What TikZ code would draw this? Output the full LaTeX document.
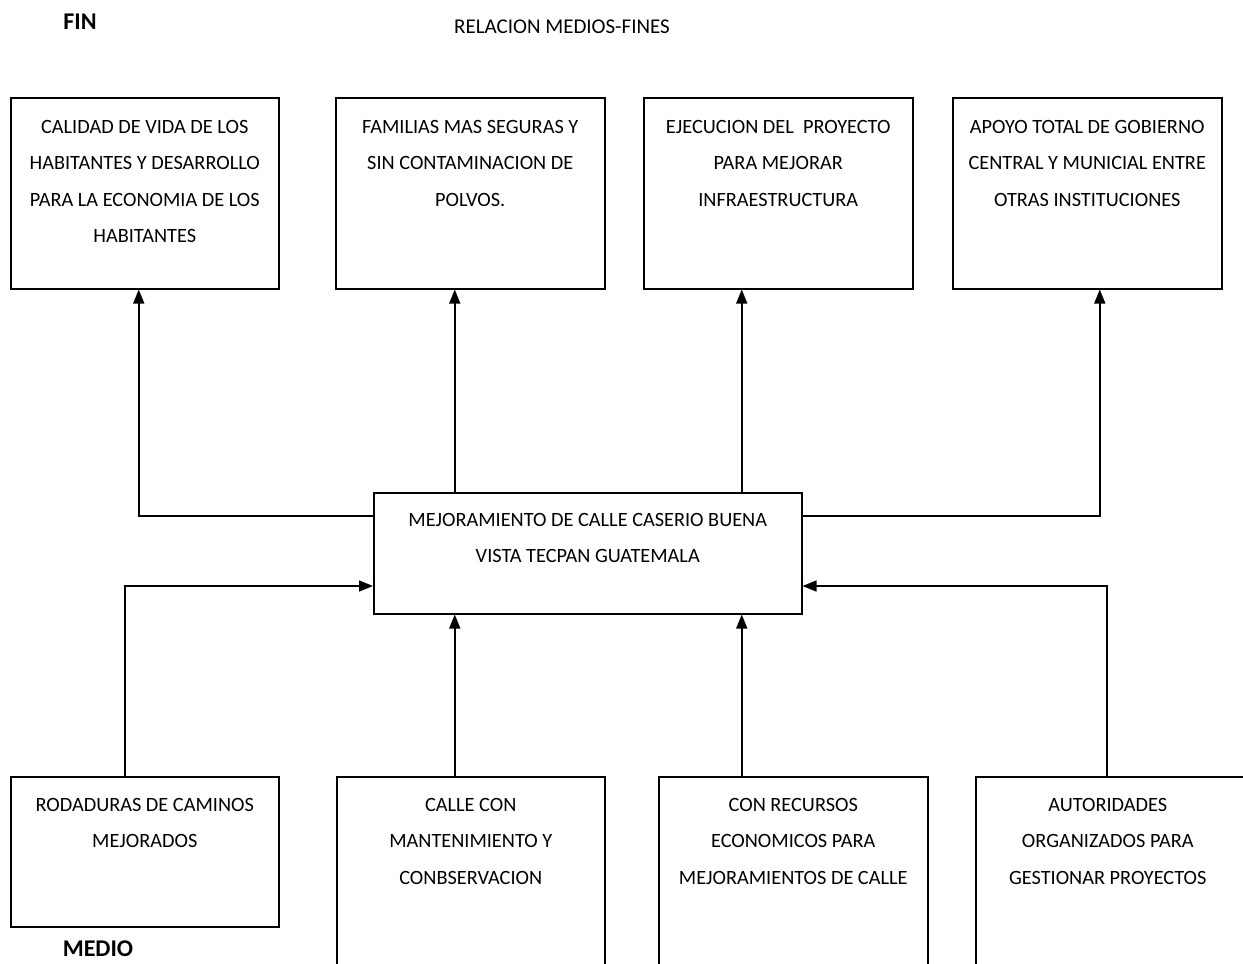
\documentclass[tikz,border=0pt]{standalone}
\usepackage{fontspec}
\setmainfont{Carlito}
\usetikzlibrary{arrows.meta,positioning}
\begin{document}
\begin{tikzpicture}[x=1pt,y=-1pt,
  bx/.style={draw, line width=1.5pt, anchor=north west, inner sep=0pt},
  txt/.style={align=center, inner sep=0pt, font=\fontsize{20.3}{36.5}\selectfont},
  ttl/.style={inner sep=0pt, font=\fontsize{24}{28}\selectfont\bfseries},
  arr/.style={line width=1.5pt, -{Triangle[length=14pt,width=11pt]}}]
\clip (0,0) rectangle (1243,964);
\fill[white] (0,0) rectangle (1243,964);

% titles
\node[ttl] (fin) at (80,22) {FIN};
\node[ttl] (medio) at (98,949) {MEDIO};
\node[inner sep=0pt, font=\fontsize{21}{24}\selectfont] (rel) at (562,27) {RELACION MEDIOS-FINES};

% top (ends) boxes
\node[bx, minimum width=268pt, minimum height=191pt] (f1) at (10,97) {};
\node[bx, minimum width=269pt, minimum height=191pt] (f2) at (335,97) {};
\node[bx, minimum width=269pt, minimum height=191pt] (f3) at (643,97) {};
\node[bx, minimum width=269pt, minimum height=191pt] (f4) at (952,97) {};

\node[txt, below=23pt of f1.north] (t1) {CALIDAD DE VIDA DE LOS\\HABITANTES Y DESARROLLO\\PARA LA ECONOMIA DE LOS\\HABITANTES};
\node[txt, below=23pt of f2.north] (t2) {FAMILIAS MAS SEGURAS Y\\SIN CONTAMINACION DE\\POLVOS.};
\node[txt, below=23pt of f3.north] (t3) {EJECUCION DEL\ \ PROYECTO\\PARA MEJORAR\\INFRAESTRUCTURA};
\node[txt, below=23pt of f4.north] (t4) {APOYO TOTAL DE GOBIERNO\\CENTRAL Y MUNICIAL ENTRE\\OTRAS INSTITUCIONES};

% central box
\node[bx, minimum width=428pt, minimum height=121pt] (c) at (373,492) {};
\node[txt, below=21pt of c.north] (tc) {MEJORAMIENTO DE CALLE CASERIO BUENA\\VISTA TECPAN GUATEMALA};

% bottom (means) boxes
\node[bx, minimum width=268pt, minimum height=150pt] (m1) at (10,776) {};
\node[bx, minimum width=268pt, minimum height=210pt] (m2) at (336,776) {};
\node[bx, minimum width=269pt, minimum height=210pt] (m3) at (658,776) {};
\node[bx, minimum width=300pt, minimum height=210pt] (m4) at (975,776) {};

\node[txt, below=22pt of m1.north] (b1t) {RODADURAS DE CAMINOS\\MEJORADOS};
\node[txt, below=22pt of m2.north] (b2t) {CALLE CON\\MANTENIMIENTO Y\\CONBSERVACION};
\node[txt, below=22pt of m3.north] (b3t) {CON RECURSOS\\ECONOMICOS PARA\\MEJORAMIENTOS DE CALLE};
\node[txt, below=22pt of m4.north, xshift=-18pt] (b4t) {AUTORIDADES\\ORGANIZADOS PARA\\GESTIONAR PROYECTOS};

% connector end points
\coordinate (a1) at ([xshift=-6pt]f1.south);
\coordinate (a2) at ([xshift=-15.5pt]f2.south);
\coordinate (a3) at ([xshift=-36.5pt]f3.south);
\coordinate (a4) at ([xshift=12.5pt]f4.south);
\coordinate (cl1) at ([yshift=-24pt]c.north west);
\coordinate (cr1) at ([yshift=-24pt]c.north east);
\coordinate (cl2) at ([yshift=-94pt]c.north west);
\coordinate (cr2) at ([yshift=-94pt]c.north east);
\coordinate (d1) at ([xshift=-20pt]m1.north);
\coordinate (d2) at ([xshift=-16pt]m2.north);
\coordinate (d3) at ([xshift=-51.5pt]m3.north);
\coordinate (d4) at ([xshift=132pt]m4.north west);

% connectors: centre -> ends
\draw[arr] (cl1) -| (a1);
\draw[arr] (a2 |- c.north) -- (a2);
\draw[arr] (a3 |- c.north) -- (a3);
\draw[arr] (cr1) -| (a4);

% connectors: means -> centre
\draw[arr] (d1) |- (cl2);
\draw[arr] (d2) -- (d2 |- c.south);
\draw[arr] (d3) -- (d3 |- c.south);
\draw[arr] (d4) |- (cr2);
\end{tikzpicture}
\end{document}
